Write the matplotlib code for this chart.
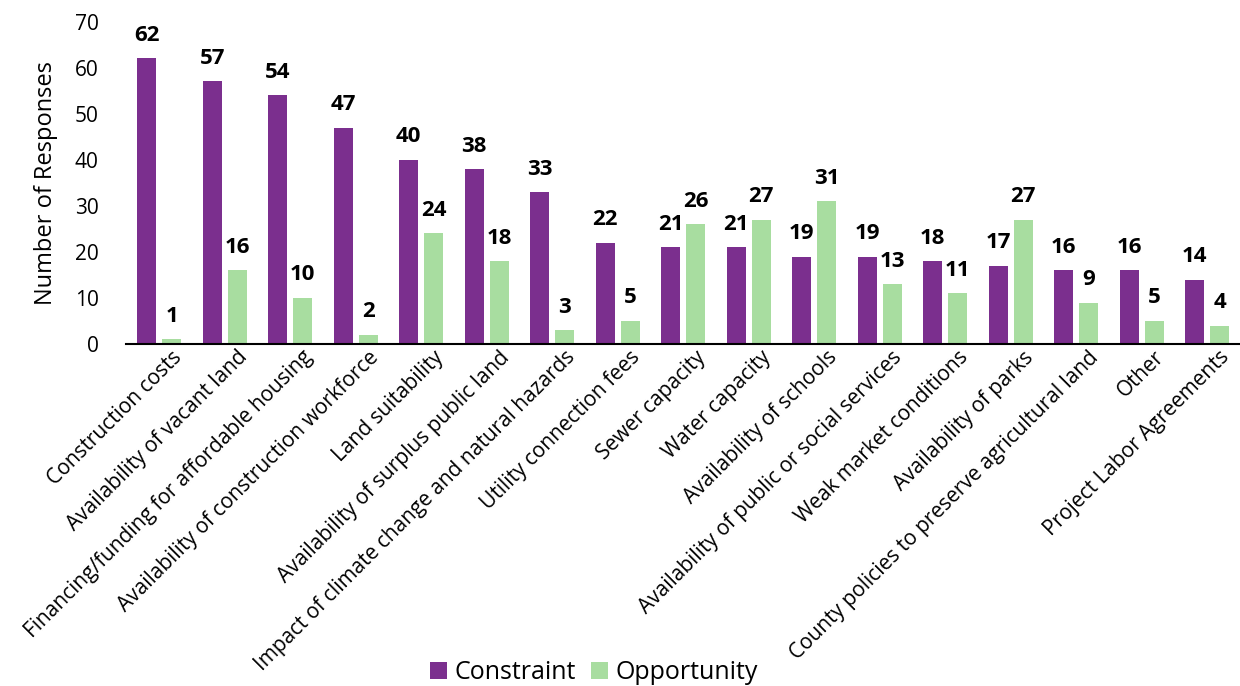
import matplotlib.pyplot as plt
import matplotlib.transforms as mtransforms
import numpy as np

plt.rcParams['font.family'] = ['Open Sans', 'DejaVu Sans']

categories = ["Construction costs", "Availability of vacant land",
              "Financing/funding for affordable housing",
              "Availability of construction workforce", "Land suitability",
              "Availability of surplus public land",
              "Impact of climate change and natural hazards",
              "Utility connection fees", "Sewer capacity", "Water capacity",
              "Availability of schools",
              "Availability of public or social services",
              "Weak market conditions", "Availability of parks",
              "County policies to preserve agricultural land", "Other",
              "Project Labor Agreements"]
constraint = [62, 57, 54, 47, 40, 38, 33, 22, 21, 21, 19, 19, 18, 17, 16, 16, 14]
opportunity = [1, 16, 10, 2, 24, 18, 3, 5, 26, 27, 31, 13, 11, 27, 9, 5, 4]

purple = "#7B2F8E"
green = "#A8DDA0"

fig = plt.figure(figsize=(12.4, 6.86), dpi=100)
ax = fig.add_axes([0.102, 0.4985, 0.898, 0.47])

x = np.arange(len(categories))
w = 0.29
off = 0.19
b1 = ax.bar(x - off, constraint, w, color=purple, label="Constraint")
b2 = ax.bar(x + off, opportunity, w, color=green, label="Opportunity")
for bars in (b1, b2):
    ax.bar_label(bars, padding=9, fontsize=16, fontweight="bold")

ax.set_xlim(-0.5, len(categories) - 0.5)
ax.set_ylim(0, 70)
ax.set_yticks(range(0, 71, 10))
ax.tick_params(axis="y", length=0, labelsize=15, pad=20)
ax.tick_params(axis="x", length=0, pad=2)
ax.set_xticks(x)
ax.set_xticklabels(categories, rotation=45, ha="right", rotation_mode="anchor",
                   fontsize=15)
shift = mtransforms.ScaledTranslation(0.12, 0, fig.dpi_scale_trans)
for lab in ax.get_xticklabels():
    lab.set_transform(lab.get_transform() + shift)
for s in ("top", "right", "left"):
    ax.spines[s].set_visible(False)
ax.spines["bottom"].set_linewidth(1.5)
ax.set_ylabel("Number of Responses", fontsize=17, labelpad=12)

fig.legend(loc="lower center", bbox_to_anchor=(0.479, -0.032), ncol=2,
           frameon=False, fontsize=18, handlelength=0.7, handleheight=0.7,
           handletextpad=0.3, columnspacing=0.6)

fig.savefig("out.png", dpi=100)
